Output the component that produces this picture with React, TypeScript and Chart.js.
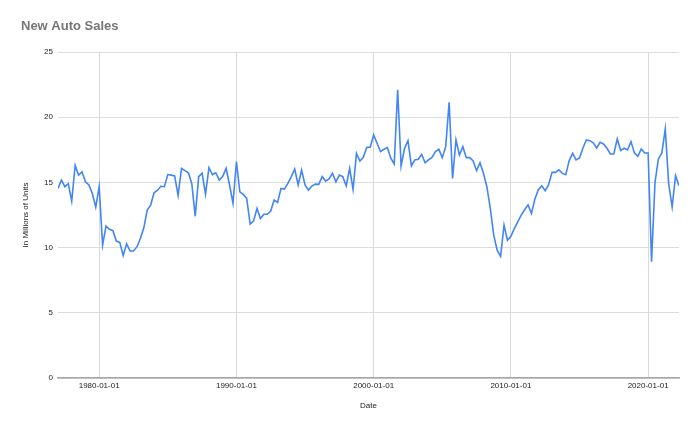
import { useEffect, useRef } from 'react';
import { Chart, registerables } from 'chart.js';

Chart.register(...registerables);

// Quarterly series, first point = 1977 Q1
const START_YEAR = 1977;
const SALES_1977_1979 = [14.54, 15.18, 14.67, 14.9, 13.56, 16.3, 15.56, 15.8, 15.05, 14.8, 14.15, 13.1];
const SALES_1980S = [
  14.67, 10.2, 11.65, 11.4, 11.3, 10.5, 10.4, 9.4, 10.3, 9.74, 9.74, 10.05, 10.7, 11.5, 12.87, 13.26,
  14.2, 14.4, 14.7, 14.67, 15.6, 15.56, 15.5, 14.0, 16.08, 15.9, 15.74, 14.9, 12.4, 15.44, 15.7, 14.1,
  16.13, 15.6, 15.74, 15.18, 15.44, 16.08, 14.8, 13.4,
];
const SALES_1990S = [
  16.6, 14.28, 14.08, 13.77, 11.8, 12.05, 13.0, 12.23, 12.56, 12.56, 12.8, 13.64, 13.46, 14.54, 14.49, 14.92,
  15.44, 16.03, 14.8, 15.95, 14.8, 14.41, 14.72, 14.87, 14.85, 15.44, 15.1, 15.26, 15.7, 15.05, 15.56, 15.44,
  14.74, 16.08, 14.46, 17.23, 16.64, 16.92, 17.7, 17.7,
];
const SALES_2000S = [
  18.64, 18.0, 17.36, 17.54, 17.67, 16.85, 16.41, 22.1, 16.26, 17.6, 18.2, 16.26, 16.72, 16.77, 17.15, 16.51,
  16.72, 16.92, 17.36, 17.54, 16.9, 17.74, 21.15, 15.3, 18.26, 17.1, 17.74, 16.9, 16.9, 16.64, 15.9, 16.51,
  15.7, 14.67, 13.0, 10.95, 9.8, 9.33, 11.72, 10.56,
];
const SALES_2010S = [
  10.87, 11.46, 11.97, 12.49, 12.9, 13.28, 12.62, 13.72, 14.44, 14.74, 14.36, 14.82, 15.77, 15.77, 15.97, 15.69,
  15.59, 16.67, 17.23, 16.72, 16.87, 17.64, 18.26, 18.2, 18.03, 17.64, 18.08, 17.95, 17.62, 17.18, 17.18, 18.33,
  17.44, 17.62, 17.49, 18.13, 17.26, 17.0, 17.56, 17.26,
];
const SALES_2020S = [17.26, 8.92, 15.0, 16.8, 17.26, 19.1, 14.87, 13.13, 15.51, 14.74];

const X_TICK_YEARS = [1980, 1990, 2000, 2010, 2020];
const Y_MIN = 0;
const Y_MAX = 25;
const Y_STEP = 5;

const TITLE = 'New Auto Sales';
const X_TITLE = 'Date';
const Y_TITLE = 'In Millions of Units';

export default function App() {
  const ref = useRef<HTMLCanvasElement>(null);

  useEffect(() => {
    document.body.style.margin = '0';
    const values = [
      ...SALES_1977_1979,
      ...SALES_1980S,
      ...SALES_1990S,
      ...SALES_2000S,
      ...SALES_2010S,
      ...SALES_2020S,
    ];
    const points = values.map((v, i) => ({ x: START_YEAR + i / 4, y: v }));
    const lastX = START_YEAR + (values.length - 1) / 4;
    const family = "'Liberation Sans', Arial, sans-serif";
    const small = { family, size: 8 };

    const chart = new Chart(ref.current!, {
      type: 'line',
      data: {
        datasets: [
          {
            data: points,
            borderColor: '#4285f4',
            borderWidth: 1.6,
            pointRadius: 0,
            tension: 0,
            fill: false,
          },
        ],
      },
      options: {
        animation: false,
        responsive: false,
        parsing: false as any,
        layout: { padding: { left: 21, right: 21, top: 0, bottom: 0 } },
        plugins: {
          legend: { display: false },
          tooltip: { enabled: false },
          title: {
            display: true,
            text: TITLE,
            align: 'start',
            color: '#757575',
            font: { family, size: 13, weight: 'bold' },
            padding: { top: 19, bottom: 17.4 },
          },
        },
        scales: {
          x: {
            type: 'linear',
            min: START_YEAR,
            max: lastX,
            afterBuildTicks: (s: any) => {
              s.ticks = X_TICK_YEARS.map((v) => ({ value: v }));
            },
            afterFit: (s: any) => {
              s.height = 53;
            },
            ticks: {
              callback: (v: any) => `${v}-01-01`,
              font: small,
              color: '#222222',
              padding: 3,
              maxRotation: 0,
              autoSkip: false,
            },
            grid: { color: '#d9d9d9', drawTicks: false },
            border: { color: '#a6a6a6', width: 1.5 },
            title: {
              display: true,
              text: X_TITLE,
              font: small,
              color: '#222222',
              padding: { top: 0, bottom: 20 },
            },
          },
          y: {
            min: Y_MIN,
            max: Y_MAX,
            afterFit: (s: any) => {
              s.width = 37;
            },
            ticks: {
              stepSize: Y_STEP,
              font: small,
              color: '#222222',
              padding: 5,
            },
            grid: { color: '#dddddd', drawTicks: false },
            border: { display: false },
            title: {
              display: true,
              text: Y_TITLE,
              font: small,
              color: '#222222',
              padding: { top: 0, bottom: 0 },
            },
          },
        },
      },
    });
    return () => chart.destroy();
  }, []);

  return (
    <div style={{ width: 700, height: 431 }}>
      <canvas ref={ref} width={700} height={431} style={{ display: 'block' }} />
    </div>
  );
}
